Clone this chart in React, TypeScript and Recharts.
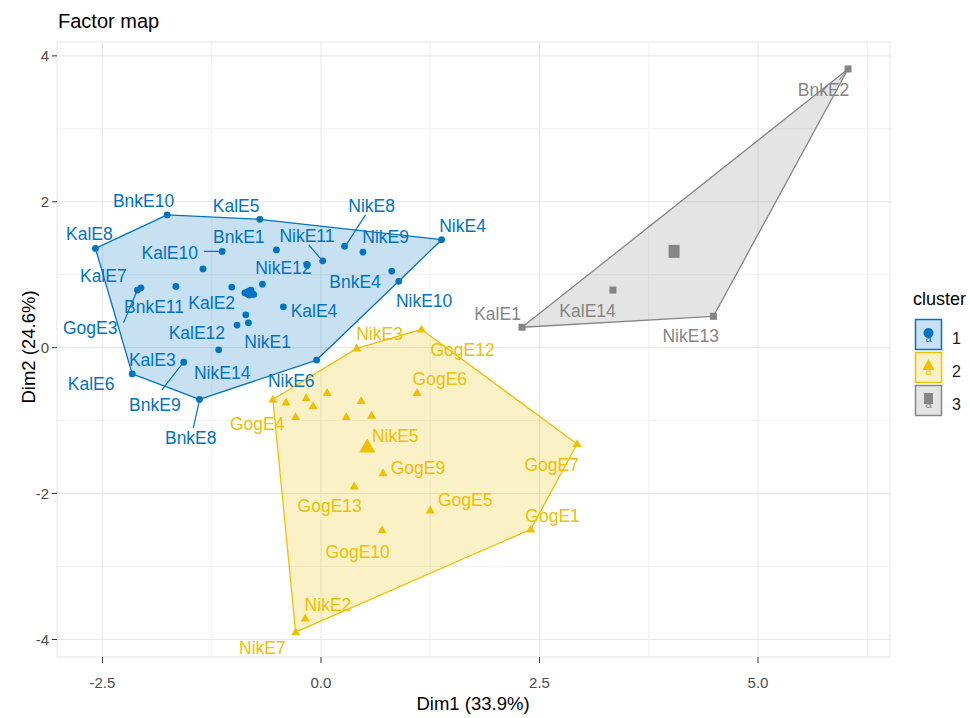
import React from 'react';
import { ScatterChart, Scatter, XAxis, YAxis, CartesianGrid, ReferenceLine } from 'recharts';

const BLUE = '#0073C2';
const YELLOW = '#EFC000';
const GRAY = '#868686';
const FONT = '"Liberation Sans", Arial, sans-serif';

const X_DOMAIN: [number, number] = [-3.02, 6.51];
const Y_DOMAIN: [number, number] = [-4.24, 4.19];
const xTicks = [-2.5, 0, 2.5, 5];
const yTicks = [-4, -2, 0, 2, 4];
const xMinor = [-1.25, 1.25, 3.75, 6.25];
const yMinor = [-3, -1, 1, 3];

// cluster 1 (blue)
const cluster1 = [
  { name: 'KalE8', x: -2.58, y: 1.36 },
  { name: 'BnkE10', x: -1.76, y: 1.82 },
  { name: 'KalE5', x: -0.7, y: 1.76 },
  { name: 'NikE4', x: 1.38, y: 1.48 },
  { name: 'NikE10', x: 0.89, y: 0.91 },
  { name: 'NikE6', x: -0.05, y: -0.17 },
  { name: 'BnkE8', x: -1.39, y: -0.71 },
  { name: 'KalE6', x: -2.16, y: -0.36 },
  { name: 'KalE7', x: -2.1, y: 0.79 },
  { name: 'GogE3', x: -2.06, y: 0.82 },
  { name: 'KalE10', x: -1.13, y: 1.32 },
  { name: 'BnkE1', x: -0.51, y: 1.34 },
  { name: 'NikE11', x: 0.02, y: 1.19 },
  { name: 'NikE8', x: 0.27, y: 1.39 },
  { name: 'NikE9', x: 0.48, y: 1.31 },
  { name: 'BnkE4', x: 0.81, y: 1.05 },
  { name: '', x: -1.35, y: 1.08 },
  { name: 'NikE12', x: -0.16, y: 1.13 },
  { name: 'BnkE11', x: -1.66, y: 0.84 },
  { name: 'KalE2', x: -1.02, y: 0.83 },
  { name: '', x: -0.67, y: 0.87 },
  { name: '', x: -0.87, y: 0.75 },
  { name: '', x: -0.8, y: 0.79 },
  { name: '', x: -0.77, y: 0.73 },
  { name: 'KalE4', x: -0.43, y: 0.56 },
  { name: '', x: -0.86, y: 0.45 },
  { name: 'NikE1', x: -0.83, y: 0.34 },
  { name: '', x: -0.96, y: 0.31 },
  { name: 'KalE12', x: -1.17, y: -0.03 },
  { name: 'KalE3', x: -1.57, y: -0.2 },
];
const hull1 = ['KalE8', 'BnkE10', 'KalE5', 'NikE4', 'NikE10', 'NikE6', 'BnkE8', 'KalE6'];
const centre1 = [{ x: -0.82, y: 0.75 }];
const labels1 = [
  { name: 'BnkE10', x: -2.03, y: 2.02 },
  { name: 'KalE5', x: -0.97, y: 1.95 },
  { name: 'KalE8', x: -2.65, y: 1.56 },
  { name: 'BnkE1', x: -0.94, y: 1.52 },
  { name: 'NikE11', x: -0.16, y: 1.54 },
  { name: 'NikE8', x: 0.58, y: 1.95 },
  { name: 'NikE9', x: 0.74, y: 1.52 },
  { name: 'NikE4', x: 1.62, y: 1.67 },
  { name: 'KalE10', x: -1.73, y: 1.3 },
  { name: 'NikE12', x: -0.43, y: 1.09 },
  { name: 'BnkE4', x: 0.39, y: 0.9 },
  { name: 'NikE10', x: 1.18, y: 0.65 },
  { name: 'KalE7', x: -2.49, y: 0.98 },
  { name: 'BnkE11', x: -1.91, y: 0.56 },
  { name: 'KalE2', x: -1.25, y: 0.61 },
  { name: 'KalE4', x: -0.08, y: 0.5 },
  { name: 'GogE3', x: -2.64, y: 0.28 },
  { name: 'KalE12', x: -1.42, y: 0.2 },
  { name: 'NikE1', x: -0.61, y: 0.08 },
  { name: 'KalE3', x: -1.93, y: -0.16 },
  { name: 'NikE14', x: -1.13, y: -0.34 },
  { name: 'KalE6', x: -2.63, y: -0.5 },
  { name: 'NikE6', x: -0.34, y: -0.45 },
  { name: 'BnkE9', x: -1.9, y: -0.78 },
  { name: 'BnkE8', x: -1.49, y: -1.23 },
];
const leaders1 = [
  [{ x: -1.34, y: 1.32 }, { x: -1.17, y: 1.32 }],
  [{ x: -0.14, y: 1.41 }, { x: 0.01, y: 1.2 }],
  [{ x: 0.51, y: 1.82 }, { x: 0.3, y: 1.43 }],
  [{ x: -2.26, y: 0.34 }, { x: -2.1, y: 0.79 }],
  [{ x: -1.82, y: -0.58 }, { x: -1.58, y: -0.21 }],
  [{ x: -1.39, y: -0.72 }, { x: -1.46, y: -1.1 }],
];

// cluster 2 (yellow)
const cluster2 = [
  { name: 'GogE4', x: -0.55, y: -0.71 },
  { name: 'NikE3', x: 0.41, y: -0.01 },
  { name: 'GogE12', x: 1.15, y: 0.25 },
  { name: 'GogE7', x: 2.93, y: -1.32 },
  { name: 'GogE1', x: 2.4, y: -2.49 },
  { name: 'NikE7', x: -0.29, y: -3.9 },
  { name: '', x: -0.4, y: -0.75 },
  { name: '', x: -0.17, y: -0.69 },
  { name: '', x: -0.09, y: -0.8 },
  { name: '', x: 0.07, y: -0.62 },
  { name: '', x: -0.29, y: -0.95 },
  { name: '', x: 0.29, y: -0.95 },
  { name: '', x: 0.46, y: -0.73 },
  { name: '', x: 0.58, y: -0.93 },
  { name: 'GogE6', x: 1.1, y: -0.62 },
  { name: 'GogE9', x: 0.71, y: -1.72 },
  { name: 'GogE13', x: 0.38, y: -1.9 },
  { name: 'GogE5', x: 1.25, y: -2.23 },
  { name: 'GogE10', x: 0.7, y: -2.5 },
  { name: 'NikE2', x: -0.18, y: -3.71 },
];
const hull2 = ['GogE4', 'NikE3', 'GogE12', 'GogE7', 'GogE1', 'NikE7'];
const centre2 = [{ x: 0.53, y: -1.36 }];
const labels2 = [
  { name: 'NikE3', x: 0.67, y: 0.19 },
  { name: 'GogE12', x: 1.62, y: -0.03 },
  { name: 'GogE6', x: 1.36, y: -0.43 },
  { name: 'GogE4', x: -0.73, y: -1.04 },
  { name: 'NikE5', x: 0.85, y: -1.21 },
  { name: 'GogE9', x: 1.11, y: -1.64 },
  { name: 'GogE13', x: 0.1, y: -2.17 },
  { name: 'GogE5', x: 1.65, y: -2.09 },
  { name: 'GogE7', x: 2.64, y: -1.61 },
  { name: 'GogE1', x: 2.65, y: -2.31 },
  { name: 'GogE10', x: 0.42, y: -2.79 },
  { name: 'NikE2', x: 0.08, y: -3.52 },
  { name: 'NikE7', x: -0.67, y: -4.11 },
];

// cluster 3 (grey)
const cluster3 = [
  { name: 'KalE1', x: 2.3, y: 0.28 },
  { name: 'KalE14', x: 3.34, y: 0.79 },
  { name: 'NikE13', x: 4.49, y: 0.43 },
  { name: 'BnkE2', x: 6.03, y: 3.82 },
];
const hull3 = ['KalE1', 'BnkE2', 'NikE13'];
const centre3 = [{ x: 4.04, y: 1.32 }];
const labels3 = [
  { name: 'BnkE2', x: 5.75, y: 3.53 },
  { name: 'KalE1', x: 2.02, y: 0.47 },
  { name: 'KalE14', x: 3.05, y: 0.51 },
  { name: 'NikE13', x: 4.23, y: 0.17 },
];
const leaders3 = [[{ x: 5.93, y: 3.67 }, { x: 6.01, y: 3.79 }]];

const pick = (pts: { name: string; x: number; y: number }[], names: string[]) =>
  names.map((n) => pts.find((p) => p.name === n)!);

const hullLine = (color: string) => (p: any) => {
  const d = p.points.map((q: any, i: number) => `${i ? 'L' : 'M'}${q.x},${q.y}`).join(' ') + ' Z';
  return <path d={d} fill={color} fillOpacity={0.22} stroke={color} strokeWidth={1.3} strokeLinejoin="round" />;
};
const none = () => <g />;
const dot = (color: string, r: number) => (p: any) => <circle cx={p.cx} cy={p.cy} r={r} fill={color} />;
const tri = (color: string, s: number) => (p: any) => (
  <polygon
    points={`${p.cx},${p.cy - s} ${p.cx - s * 0.95},${p.cy + s * 0.65} ${p.cx + s * 0.95},${p.cy + s * 0.65}`}
    fill={color}
  />
);
const sq = (color: string, w: number, h: number) => (p: any) => (
  <rect x={p.cx - w / 2} y={p.cy - h / 2} width={w} height={h} fill={color} />
);
const label = (color: string) => (p: any) => (
  <text x={p.cx} y={p.cy} dy="0.36em" textAnchor="middle" fill={color} fontSize={17.5} fontFamily={FONT}>
    {p.payload?.name ?? p.name}
  </text>
);

const toPx = (v: number, d: [number, number], start: number, size: number) =>
  start + ((v - d[0]) / (d[1] - d[0])) * size;

export default function App() {
  return (
    <div style={{ position: 'absolute', left: 0, top: 0, width: 970, height: 718, background: '#fff', fontFamily: FONT }}>
      <ScatterChart width={970} height={718} margin={{ top: 42, right: 80, bottom: 21, left: 12 }}>
        <CartesianGrid
          stroke="#f1f1f1"
          verticalCoordinatesGenerator={({ offset }: any) => xMinor.map((v) => toPx(v, X_DOMAIN, offset.left, offset.width))}
          horizontalCoordinatesGenerator={({ offset }: any) =>
            yMinor.map((v) => toPx(-v, [-Y_DOMAIN[1], -Y_DOMAIN[0]], offset.top, offset.height))
          }
        />
        <CartesianGrid stroke="#e6e6e6" />
        <XAxis
          type="number"
          dataKey="x"
          domain={X_DOMAIN}
          ticks={xTicks}
          allowDataOverflow
          height={40}
          axisLine={false}
          tickSize={6}
          tickMargin={14}
          tickLine={{ stroke: '#333' }}
          tick={{ fontSize: 15, fill: '#4d4d4d', fontFamily: FONT }}
          tickFormatter={(v) => Number(v).toFixed(1)}
        />
        <YAxis
          type="number"
          dataKey="y"
          domain={Y_DOMAIN}
          ticks={yTicks}
          allowDataOverflow
          width={45}
          axisLine={false}
          tickSize={5}
          tickMargin={3}
          tickLine={{ stroke: '#333' }}
          tick={{ fontSize: 15, fill: '#4d4d4d', fontFamily: FONT }}
        />
        <Scatter data={pick(cluster1, hull1)} line={hullLine(BLUE)} lineType="joint" shape={none} isAnimationActive={false} />
        <Scatter data={pick(cluster2, hull2)} line={hullLine(YELLOW)} lineType="joint" shape={none} isAnimationActive={false} />
        <Scatter data={pick(cluster3, hull3)} line={hullLine(GRAY)} lineType="joint" shape={none} isAnimationActive={false} />
        {leaders1.map((s, i) => (
          <ReferenceLine key={`l1${i}`} segment={s} stroke={BLUE} strokeWidth={1.2} />
        ))}
        {leaders3.map((s, i) => (
          <ReferenceLine key={`l3${i}`} segment={s} stroke={GRAY} strokeWidth={1} />
        ))}
        <Scatter data={cluster1} shape={dot(BLUE, 3.4)} isAnimationActive={false} />
        <Scatter data={centre1} shape={dot(BLUE, 5.5)} isAnimationActive={false} />
        <Scatter data={cluster2} shape={tri(YELLOW, 4.8)} isAnimationActive={false} />
        <Scatter data={centre2} shape={tri(YELLOW, 8.5)} isAnimationActive={false} />
        <Scatter data={cluster3} shape={sq(GRAY, 7, 7)} isAnimationActive={false} />
        <Scatter data={centre3} shape={sq(GRAY, 11, 13)} isAnimationActive={false} />
        <Scatter data={labels1} shape={label(BLUE)} isAnimationActive={false} />
        <Scatter data={labels2} shape={label(YELLOW)} isAnimationActive={false} />
        <Scatter data={labels3} shape={label(GRAY)} isAnimationActive={false} />
      </ScatterChart>
      <svg width={970} height={718} style={{ position: 'absolute', left: 0, top: 0, pointerEvents: 'none' }}>
        <text x={58} y={28} fontSize={20} fill="#000" fontFamily={FONT}>
          Factor map
        </text>
        <text x={473} y={710} fontSize={18.5} textAnchor="middle" fill="#000" fontFamily={FONT}>
          Dim1 (33.9%)
        </text>
        <text x={35} y={347} fontSize={18.5} textAnchor="middle" fill="#000" fontFamily={FONT} transform="rotate(-90 35 347)">
          Dim2 (24.6%)
        </text>
        <text x={913} y={305} fontSize={18} fill="#000" fontFamily={FONT}>
          cluster
        </text>
        {[
          { c: BLUE, n: '1', y: 319 },
          { c: YELLOW, n: '2', y: 352 },
          { c: GRAY, n: '3', y: 385 },
        ].map((k, i) => {
          const cx = 928.5;
          const cy = k.y + 14;
          return (
            <g key={k.n}>
              <rect x={915.5} y={k.y + 0.5} width={26} height={30} fill={k.c} fillOpacity={0.22} stroke={k.c} strokeWidth={1.5} />
              <text x={cx} y={cy + 9} fontSize={11} textAnchor="middle" fill={k.c} fontFamily={FONT}>
                a
              </text>
              {i === 0 && <circle cx={cx} cy={cy} r={5} fill={k.c} />}
              {i === 1 && <polygon points={`${cx},${cy - 7} ${cx - 6},${cy + 4} ${cx + 6},${cy + 4}`} fill={k.c} />}
              {i === 2 && <rect x={cx - 4.5} y={cy - 6} width={9} height={11} fill={k.c} />}
              <text x={952} y={k.y + 25} fontSize={16} fill="#1a1a1a" fontFamily={FONT}>
                {k.n}
              </text>
            </g>
          );
        })}
      </svg>
    </div>
  );
}
